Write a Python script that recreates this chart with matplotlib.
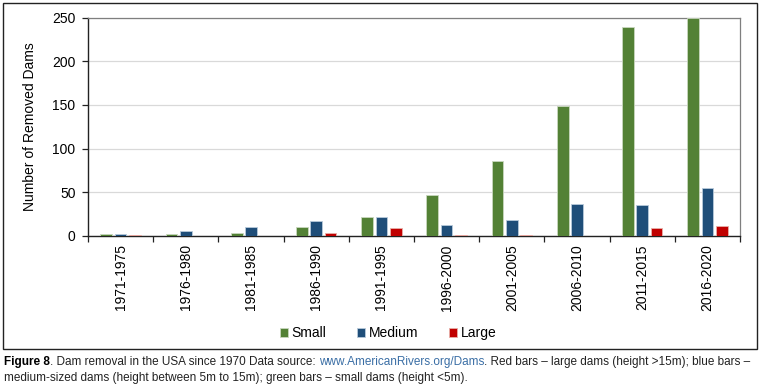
import matplotlib
matplotlib.use("Agg")
import matplotlib.pyplot as plt
from matplotlib.patches import Rectangle
import numpy as np

periods = ["1971-1975", "1976-1980", "1981-1985", "1986-1990", "1991-1995",
           "1996-2000", "2001-2005", "2006-2010", "2011-2015", "2016-2020"]
small = [2.3, 2.3, 3.8, 10.5, 22, 46.5, 86, 149, 239, 250]
medium = [2.3, 5.8, 10.5, 17, 22, 12.5, 18.5, 37, 35, 55]
large = [0.6, 0, 0, 4, 9, 0.7, 0.7, 0, 9, 11]
yticks = [0, 50, 100, 150, 200, 250]

plt.rcParams['font.family'] = ['Liberation Sans', 'DejaVu Sans']

W, H = 763, 388
fig = plt.figure(figsize=(W/100, H/100), dpi=100)
ax = fig.add_axes([88/W, 1-236/H, (740-88)/W, (236-17.5)/H])

x = np.arange(len(periods))
bw = 0.18
off = 0.22
cols = ["#538135", "#1F4E79", "#C00000"]
edges = ["#C9D7BF", "#B9CADB", "#E8B0A8"]
for k, (vals, c, e, lab) in enumerate(zip([small, medium, large], cols, edges,
                                          ["Small", "Medium", "Large"])):
    ax.bar(x + (k-1)*off, vals, width=bw, color=c, edgecolor=e, linewidth=0.6,
           label=lab, zorder=3)

ax.set_xlim(-0.5, len(periods)-0.5)
ax.set_ylim(0, 250)
ax.set_yticks(yticks)
ax.set_yticklabels([str(v) for v in yticks], fontsize=10)
ax.yaxis.grid(True, color="#D9D9D9", linewidth=0.9, zorder=0)
ax.set_axisbelow(True)

ax.set_xticks(x)
ax.set_xticklabels(periods, rotation=90, fontsize=10)
ax.tick_params(axis='x', which='major', length=0, pad=6)
ax.set_xticks(np.arange(-0.5, len(periods)), minor=True)
ax.tick_params(axis='x', which='minor', length=4, width=0.9, color="#222222", direction='out')
ax.tick_params(axis='y', length=4, width=0.9, color="#222222", direction='out', pad=5)

for s in ['left', 'bottom']:
    ax.spines[s].set_color("#222222")
    ax.spines[s].set_linewidth(1.0)
for s in ['top', 'right']:
    ax.spines[s].set_color("#7F7F7F")
    ax.spines[s].set_linewidth(0.9)

ax.set_ylabel("Number of Removed Dams", fontsize=10, labelpad=11)

leg = fig.legend(loc='center', bbox_to_anchor=(388/W, 1-333/H), ncol=3, frameon=False,
                 fontsize=10, handlelength=0.6, handleheight=0.6, handletextpad=0.25,
                 columnspacing=2.2)

# outer border
fig.patches.append(Rectangle((3/W, 1-349/H), (757-3)/W, (349-3)/H, transform=fig.transFigure,
                             fill=False, edgecolor="#222222", linewidth=1.0))

# caption
cap_font = ['Liberation Sans Narrow', 'Liberation Sans', 'DejaVu Sans']
fs = 8.5
y1 = 1 - 362/H
t = fig.text(4/W, y1, "Figure 8", fontsize=fs, fontweight='bold', family=cap_font, va='center')
fig.canvas.draw()
r = fig.canvas.get_renderer()
bb = t.get_window_extent(r)
xpos = bb.x1
parts = [(". Dam removal in the USA since 1970 Data source: ", "#222222"),
         ("www.AmericanRivers.org/Dams", "#3A6EA5"),
         (". Red bars \u2013 large dams (height >15m); blue bars \u2013", "#222222")]
for s, c in parts:
    tt = fig.text(xpos/W, y1, s, fontsize=fs, family=cap_font, color=c, va='center')
    xpos = tt.get_window_extent(r).x1
fig.text(4/W, 1-378/H, "medium-sized dams (height between 5m to 15m); green bars \u2013 small dams (height <5m).",
         fontsize=fs, family=cap_font, color="#222222", va='center')

fig.savefig("out.png", dpi=100)
